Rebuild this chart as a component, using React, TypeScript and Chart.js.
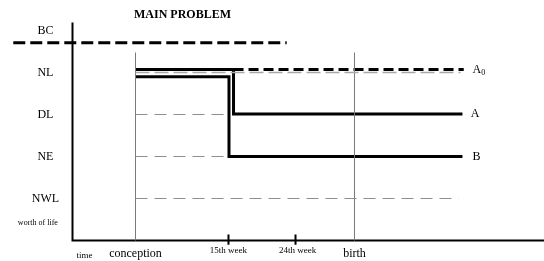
import React, { useEffect, useRef } from "react";
import { Chart, registerables } from "chart.js";

Chart.register(...registerables);

// ---- data (abstract units: x = time position, y = worth-of-life level) ----
const levelLabels = ["NWL", "NE", "DL", "NL"];
const levelValues = [1, 2, 3, 4];
const bcLabel = "BC";
const bcValue = 4.71;
const timeLabels = ["conception", "15th week", "24th week", "birth"];
const timeValues = [1, 2.476, 3.54, 4.476];
const tickedTimes = [2.476, 3.54];

const pathA = [
  { x: 1, y: 4.07 },
  { x: 2.556, y: 4.07 },
  { x: 2.556, y: 3.01 },
  { x: 6.19, y: 3.01 },
];
const pathA0 = [
  { x: 2.556, y: 4.07 },
  { x: 6.21, y: 4.07 },
];
const pathB = [
  { x: 1, y: 3.9 },
  { x: 2.484, y: 3.9 },
  { x: 2.484, y: 2 },
  { x: 6.19, y: 2 },
];
const bcLine = [
  { x: -0.94, y: 4.71 },
  { x: 3.4, y: 4.71 },
];
// extent of the gray reference lines for each level (NWL, NE, DL, NL)
const levelLineEnds = [6.13, 2.48, 2.48, 6.16];
const verticalTop = 4.476;
const axisTop = 5.19;
const axisRight = 7.6;
const seriesEndLabels = ["A", "B"];

export default function App() {
  const ref = useRef<HTMLCanvasElement | null>(null);

  useEffect(() => {
    if (!ref.current) return;
    const serif = "'Liberation Serif', 'DejaVu Serif', serif";

    const datasets: any[] = [];
    const line = (data: any[], color: string, width: number, dash: number[] = []) => ({
      data,
      borderColor: color,
      borderWidth: width,
      borderDash: dash,
      pointRadius: 0,
      showLine: true,
      fill: false,
      tension: 0,
      borderJoinStyle: "miter",
      borderCapStyle: "butt",
    });

    // gray reference dashed lines
    levelValues.forEach((v, i) => {
      datasets.push(
        line(
          [
            { x: timeValues[0], y: v },
            { x: levelLineEnds[i], y: v },
          ],
          i === 3 ? "#a8a8a8" : "#8e8e8e",
          i === 3 ? 1.5 : 1.2,
          i === 3 ? [14, 5] : [12, 7]
        )
      );
    });
    // vertical lines at conception and birth
    [timeValues[0], timeValues[3]].forEach((t) =>
      datasets.push(
        line(
          [
            { x: t, y: 0 },
            { x: t, y: verticalTop },
          ],
          "#7a7a7a",
          1
        )
      )
    );
    // axes
    datasets.push(
      line(
        [
          { x: 0, y: axisTop },
          { x: 0, y: 0 },
          { x: axisRight, y: 0 },
        ],
        "#000",
        2
      )
    );
    // tick marks
    tickedTimes.forEach((t) =>
      datasets.push(
        line(
          [
            { x: t, y: 0.14 },
            { x: t, y: -0.1 },
          ],
          "#000",
          2
        )
      )
    );
    // BC line
    datasets.push(line(bcLine, "#000", 3, [12, 5]));
    // series
    datasets.push(line(pathA0, "#000", 3, [10, 5]));
    datasets.push(line(pathA, "#000", 3));
    datasets.push(line(pathB, "#000", 3));

    const textPlugin = {
      id: "diagramText",
      afterDatasetsDraw(chart: any) {
        const { ctx } = chart;
        const xs = chart.scales.x;
        const ys = chart.scales.y;
        const px = (v: number) => xs.getPixelForValue(v);
        const py = (v: number) => ys.getPixelForValue(v);
        ctx.save();
        ctx.fillStyle = "#000";
        ctx.textAlign = "center";
        ctx.textBaseline = "middle";

        // title
        ctx.font = `bold 12px ${serif}`;
        ctx.fillText("MAIN PROBLEM", px(1.746), py(5.36));

        // level labels
        ctx.font = `12px ${serif}`;
        levelLabels.forEach((l, i) => ctx.fillText(l, px(-0.43), py(levelValues[i])));
        ctx.fillText(bcLabel, px(-0.43), py(bcValue + 0.27));
        ctx.font = `8px ${serif}`;
        ctx.fillText("worth of life", px(-0.55), py(0.43));

        // time labels
        timeLabels.forEach((l, i) => {
          const small = i === 1 || i === 2;
          ctx.font = small ? `9px ${serif}` : `12px ${serif}`;
          ctx.fillText(l, px(timeValues[i]) + (i === 2 ? 2 : 0), py(small ? -0.24 : -0.31));
        });
        ctx.font = `9px ${serif}`;
        ctx.fillText("time", px(0.19), py(-0.36));

        // series end labels
        ctx.textAlign = "left";
        ctx.font = `12px ${serif}`;
        const ax = px(6.35);
        ctx.fillText("A", ax, py(pathA0[1].y));
        const w = ctx.measureText("A").width;
        ctx.font = `8px ${serif}`;
        ctx.fillText("0", ax + w, py(pathA0[1].y) + 3);
        ctx.font = `12px ${serif}`;
        ctx.fillText(seriesEndLabels[0], px(6.32), py(pathA[3].y));
        ctx.fillText(seriesEndLabels[1], px(6.35), py(pathB[3].y));
        ctx.restore();
      },
    };

    const chart = new Chart(ref.current, {
      type: "line",
      data: { datasets },
      options: {
        animation: false,
        responsive: false,
        devicePixelRatio: 1,
        layout: { padding: 0 },
        plugins: { legend: { display: false }, tooltip: { enabled: false } },
        scales: {
          x: { type: "linear", display: false, min: -72.5 / 63, max: (544 - 72.5) / 63 },
          y: { type: "linear", display: false, min: -20.5 / 42, max: 240.5 / 42 },
        },
      },
      plugins: [textPlugin],
    } as any);
    return () => chart.destroy();
  }, []);

  return (
    <div style={{ position: "fixed", left: 0, top: 0, width: 544, height: 261, background: "#fff" }}>
      <canvas ref={ref} width={544} height={261} />
    </div>
  );
}
